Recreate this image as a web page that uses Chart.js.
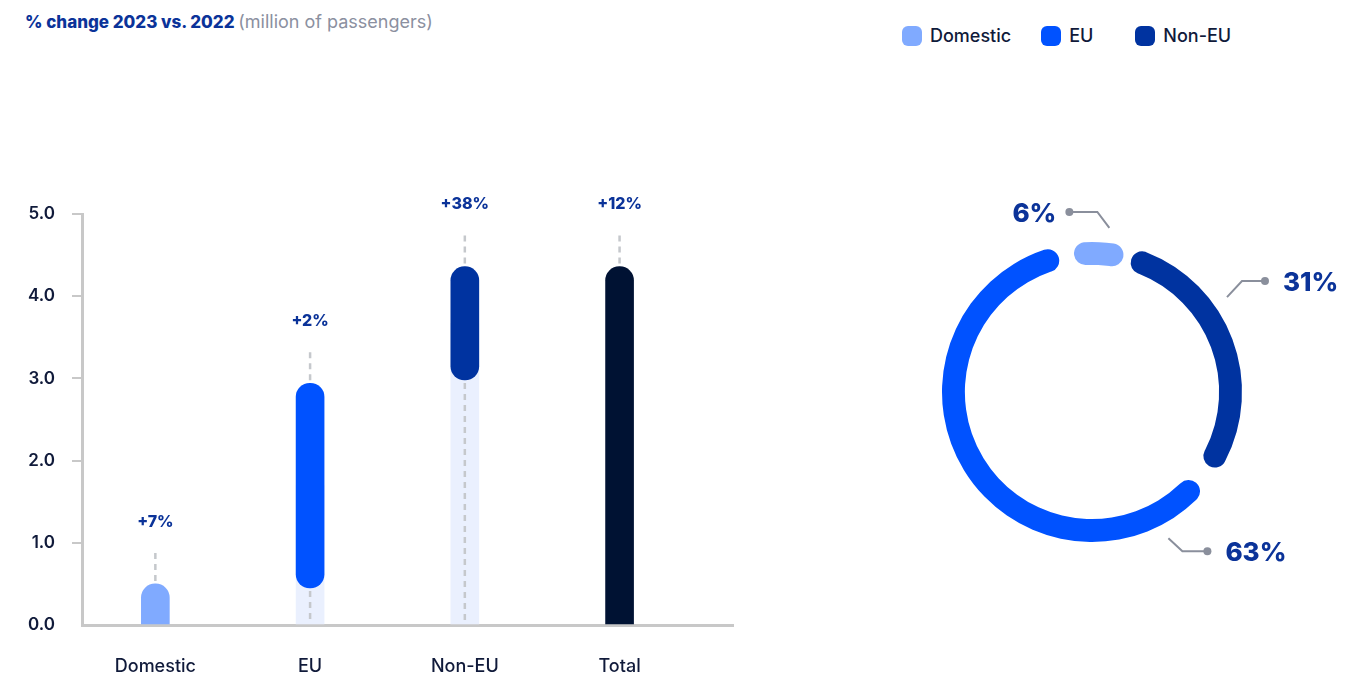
<!DOCTYPE html>
<html>
<head>
<meta charset="utf-8">
<script src="https://cdn.jsdelivr.net/npm/chart.js@4.4.1/dist/chart.umd.min.js"></script>
<style>
  html, body { margin: 0; padding: 0; background: #fff; }
  body { width: 1369px; height: 683px; position: relative; overflow: hidden; font-family: Inter, "Noto Sans", sans-serif; }
  #title { position: absolute; left: 25px; top: 11px; font-size: 17px; font-weight: 800; color: #0b3399; white-space: nowrap; }
  #title span { font-size: 18px; font-weight: 400; color: #8b90a0; }
  #legend { position: absolute; left: 902px; top: 25px; display: flex; align-items: center; }
  .item { display: flex; align-items: center; font-size: 18px; font-weight: 500; color: #101a3a; }
  .swatch { width: 20px; height: 20px; border-radius: 6px; margin-right: 8px; }
  #bars { position: absolute; left: 0; top: 0; }
  #donut { position: absolute; left: 842px; top: 192px; }
</style>
</head>
<body>
<div id="title">% change 2023 vs. 2022 <span>(million of passengers)</span></div>
<div id="legend"></div>
<canvas id="bars" width="760" height="683"></canvas>
<canvas id="donut" width="500" height="400"></canvas>
<script>
'use strict';

// passengers (millions), each bar runs from start to end
var categories = ['Domestic', 'EU', 'Non-EU', 'Total'];
var barStart = [0, 0.45, 2.98, 0];
var barEnd = [0.5, 2.94, 4.36, 4.36];
var changePct = [7, 2, 38, 12];
var yTicks = [0, 1, 2, 3, 4, 5];

// share of passengers, %
var shareLabels = ['Domestic', 'EU', 'Non-EU'];
var shares = [6, 63, 31];

var barColors = ['#80aaff', '#0052ff', '#0033a0', '#001233'];
var shareColors = ['#80aaff', '#0052ff', '#0033a0'];
var navy = '#0b3399';
var ink = '#101a3a';
var axisGrey = '#c8c8c8';

// ------------------------------------------------------- //
// Legend
// ------------------------------------------------------ //
var legend = document.getElementById('legend');
var legendGaps = [30, 42, 0];
shareLabels.forEach(function(name, i) {
    var item = document.createElement('div');
    item.className = 'item';
    item.style.marginRight = legendGaps[i] + 'px';
    item.innerHTML = '<div class="swatch" style="background:' + shareColors[i] + '"></div>' + name;
    legend.appendChild(item);
});

// ------------------------------------------------------- //
// Bar chart
// ------------------------------------------------------ //
var barMarks = {
    id: 'barMarks',
    afterDatasetsDraw: function(chart) {
        var ctx = chart.ctx;
        var zero = chart.scales.y.getPixelForValue(0);
        var bars = chart.getDatasetMeta(0).data;
        ctx.save();
        ctx.strokeStyle = '#c5c8cc';
        ctx.lineWidth = 2.5;
        ctx.setLineDash([6, 5]);
        bars.forEach(function(bar, i) {
            ctx.beginPath();
            ctx.moveTo(bar.x, bar.y - 31);
            ctx.lineTo(bar.x, bar.y - 1);
            if (barStart[i] > 0) {
                ctx.moveTo(bar.x, bar.base + 3);
                ctx.lineTo(bar.x, zero - 2);
            }
            ctx.stroke();
        });
        ctx.setLineDash([]);
        ctx.fillStyle = navy;
        ctx.font = '800 16px Inter';
        ctx.textAlign = 'center';
        ctx.textBaseline = 'middle';
        bars.forEach(function(bar, i) {
            ctx.fillText('+' + changePct[i] + '%', bar.x, bar.y - 62);
        });
        ctx.restore();
    }
};

new Chart(document.getElementById('bars'), {
    type: 'bar',
    data: {
        datasets: [{
            data: categories.map(function(c, i) { return {x: i, y: [barStart[i], barEnd[i]]}; }),
            backgroundColor: barColors,
            barThickness: 28,
            grouped: false,
            borderSkipped: false,
            borderRadius: function(ctx) {
                return barStart[ctx.dataIndex] === 0
                    ? {topLeft: 14, topRight: 14, bottomLeft: 0, bottomRight: 0}
                    : 14;
            },
            order: 0
        }, {
            // pale column under the floating bars
            data: categories.map(function(c, i) {
                return barStart[i] > 0 ? {x: i, y: [0, (barStart[i] + barEnd[i]) / 2]} : null;
            }).filter(Boolean),
            backgroundColor: '#eaf0fe',
            barThickness: 28,
            grouped: false,
            borderSkipped: false,
            borderRadius: 0,
            order: 1
        }]
    },
    options: {
        responsive: false,
        animation: false,
        layout: {padding: {top: 214, right: 27, bottom: 0, left: 0}},
        plugins: {legend: {display: false}, tooltip: {enabled: false}},
        scales: {
            x: {
                type: 'linear',
                offset: false,
                min: -0.474,
                max: 3.733,
                afterBuildTicks: function(scale) {
                    scale.ticks = categories.map(function(c, i) { return {value: i}; });
                },
                afterFit: function(scale) { scale.height = 58; },
                grid: {display: false, drawTicks: false, offset: false},
                border: {display: true, color: axisGrey, width: 3},
                ticks: {
                    padding: 31,
                    color: ink,
                    font: {family: 'Inter', size: 18, weight: 500},
                    callback: function(v) { return categories[v]; }
                }
            },
            y: {
                min: 0,
                max: 5,
                afterBuildTicks: function(scale) {
                    scale.ticks = yTicks.map(function(v) { return {value: v}; });
                },
                afterFit: function(scale) { scale.width = 82; },
                grid: {
                    drawOnChartArea: false,
                    drawTicks: true,
                    tickLength: 10,
                    lineWidth: 2,
                    color: function(ctx) { return ctx.tick && ctx.tick.value === 0 ? 'rgba(0,0,0,0)' : axisGrey; }
                },
                border: {display: true, color: axisGrey, width: 3},
                ticks: {
                    padding: 17,
                    color: ink,
                    font: {family: 'Inter', size: 17, weight: 600},
                    callback: function(v) { return v.toFixed(1); }
                }
            }
        }
    },
    plugins: [barMarks]
});

// ------------------------------------------------------- //
// Doughnut
// ------------------------------------------------------ //
// clockwise from the top: Domestic, Non-EU, EU
var ringOrder = [0, 2, 1];
// leader lines: where on the arc they start, elbow and run
var leaders = [
    {frac: 0.65, dx: -12, dy: -16, run: -28},
    {frac: 0.37, dx: 15, dy: -16, run: 23},
    {frac: 0.12, dx: 14, dy: 13, run: 25}
];

var donutLabels = {
    id: 'donutLabels',
    afterDatasetsDraw: function(chart) {
        var ctx = chart.ctx;
        var arcs = chart.getDatasetMeta(0).data;
        ctx.save();
        arcs.forEach(function(arc, i) {
            var l = leaders[i];
            var a = arc.startAngle + l.frac * (arc.endAngle - arc.startAngle);
            var r = arc.outerRadius + 22;
            var x0 = arc.x + r * Math.cos(a);
            var y0 = arc.y + r * Math.sin(a);
            var x1 = x0 + l.dx, y1 = y0 + l.dy;
            var x2 = x1 + l.run;
            ctx.strokeStyle = '#8a8f9c';
            ctx.lineWidth = 2;
            ctx.beginPath();
            ctx.moveTo(x0, y0);
            ctx.lineTo(x1, y1);
            ctx.lineTo(x2, y1);
            ctx.stroke();
            ctx.fillStyle = '#8a8f9c';
            ctx.beginPath();
            ctx.arc(x2, y1, 4, 0, Math.PI * 2);
            ctx.fill();
            ctx.fillStyle = navy;
            ctx.font = '800 26px Inter';
            ctx.textBaseline = 'middle';
            ctx.textAlign = l.run < 0 ? 'right' : 'left';
            ctx.fillText(shares[ringOrder[i]] + '%', x2 + (l.run < 0 ? -13 : 18), y1 + 2);
        });
        ctx.restore();
    }
};

new Chart(document.getElementById('donut'), {
    type: 'doughnut',
    data: {
        labels: ringOrder.map(function(i) { return shareLabels[i]; }),
        datasets: [{
            data: ringOrder.map(function(i) { return shares[i]; }),
            backgroundColor: ringOrder.map(function(i) { return shareColors[i]; }),
            borderWidth: 0,
            borderRadius: 12,
            spacing: 14
        }]
    },
    options: {
        responsive: false,
        animation: false,
        rotation: -8,
        radius: 143,
        cutout: '84%',
        plugins: {legend: {display: false}, tooltip: {enabled: false}}
    },
    plugins: [donutLabels]
});
</script>
</body>
</html>
